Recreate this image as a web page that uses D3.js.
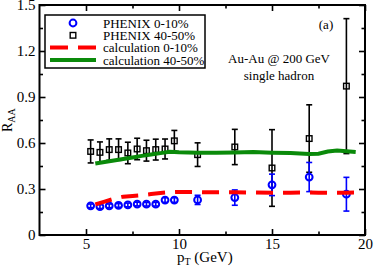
<!DOCTYPE html>
<html>
<head>
<meta charset="utf-8">
<script src="https://cdn.jsdelivr.net/npm/d3@7"></script>
<style>
  body { margin: 0; background: #fff; }
  svg text { font-family: "Liberation Serif", "DejaVu Serif", serif; }
</style>
</head>
<body>
<div id="chart"></div>
<script>
// measured points (PHENIX)
var ptData = [5.25, 5.75, 6.25, 6.75, 7.25, 7.75, 8.25, 8.75, 9.25, 9.75, 11, 13, 15, 17, 19];
var raa0_10 = [0.19, 0.185, 0.19, 0.193, 0.196, 0.202, 0.201, 0.201, 0.228, 0.228, 0.229, 0.244, 0.327, 0.378, 0.266];
var err0_10 = [0.012, 0.012, 0.012, 0.012, 0.012, 0.012, 0.012, 0.012, 0.015, 0.015, 0.03, 0.05, 0.07, 0.095, 0.11];
var raa40_50 = [0.545, 0.539, 0.557, 0.557, 0.535, 0.561, 0.55, 0.557, 0.561, 0.614, 0.524, 0.574, 0.437, 0.629, 0.971];
var err40_50 = [0.075, 0.068, 0.07, 0.07, 0.07, 0.07, 0.068, 0.068, 0.065, 0.068, 0.077, 0.115, 0.25, 0.22, 0.44];

// calculation curves
var calcPt = [5.5, 6, 6.5, 7, 7.5, 8, 8.5, 9, 9.5, 10, 11, 12, 13, 14, 15, 16, 17, 17.5, 18, 18.5, 19, 19.5];
var calc0_10 = [0.2, 0.218, 0.236, 0.25, 0.255, 0.26, 0.267, 0.274, 0.279, 0.281, 0.28, 0.278, 0.279, 0.277, 0.275, 0.276, 0.277, 0.276, 0.275, 0.275, 0.276, 0.277];
var calc40_50 = [0.466, 0.476, 0.486, 0.496, 0.506, 0.516, 0.525, 0.534, 0.543, 0.54, 0.537, 0.537, 0.538, 0.541, 0.537, 0.534, 0.529, 0.53, 0.544, 0.551, 0.546, 0.541];

var xMajor = [5, 10, 15, 20];
var xMinor = [7.5, 12.5, 17.5];
var yMajor = [0, 0.3, 0.6, 0.9, 1.2, 1.5];
var yMinor = [0.15, 0.45, 0.75, 1.05, 1.35];

var legendLabels = ["PHENIX 0-10%", "PHENIX 40-50%", "calculation 0-10%", "calculation 40-50%"];

var W = 374, H = 267;
var plotL = 39.5, plotR = 365, plotT = 5, plotB = 235;

var svg = d3.select("#chart").append("svg")
    .attr("width", W).attr("height", H);

var x = d3.scaleLinear().domain([2.5, 20]).range([plotL, plotR]);
var y = d3.scaleLinear().domain([0, 1.5]).range([plotB, plotT]);

var blue = "#0000ff", red = "#ff0000", green = "#0a8a0a";

function fmtY(d) { return d === 0 ? "0" : d3.format(".1f")(d); }

// ticks, all inward
function addAxis(axisFn, vals, size, tr, labels) {
    var g = svg.append("g")
        .attr("transform", tr)
        .call(axisFn.tickValues(vals).tickSize(-size).tickSizeOuter(0)
            .tickPadding(3).tickFormat(labels ? null : ""));
    g.select(".domain").remove();
    g.selectAll(".tick line").attr("stroke", "#000").attr("stroke-width", 1.6);
    g.selectAll("text").attr("fill", "#000").style("font-size", "15px");
    return g;
}
addAxis(d3.axisBottom(x), xMajor, 6, "translate(0," + plotB + ")", true)
    .selectAll("text").text(function(d) { return d; });
addAxis(d3.axisBottom(x), xMinor, 3.5, "translate(0," + plotB + ")", false);
addAxis(d3.axisTop(x), xMajor, 6, "translate(0," + plotT + ")", false);
addAxis(d3.axisTop(x), xMinor, 3.5, "translate(0," + plotT + ")", false);
addAxis(d3.axisLeft(y), yMajor, 6, "translate(" + plotL + ",0)", true)
    .selectAll("text").text(fmtY).attr("dx", -1);
addAxis(d3.axisLeft(y), yMinor, 3.5, "translate(" + plotL + ",0)", false);
addAxis(d3.axisRight(y), yMajor, 6, "translate(" + plotR + ",0)", false);
addAxis(d3.axisRight(y), yMinor, 3.5, "translate(" + plotR + ",0)", false);

// frame
svg.append("rect")
    .attr("x", plotL).attr("y", plotT)
    .attr("width", plotR - plotL).attr("height", plotB - plotT)
    .attr("fill", "none").attr("stroke", "#000").attr("stroke-width", 2);

// error bars + markers
function drawSeries(vals, errs, color, shape) {
    var g = svg.append("g");
    var capW = 3;
    ptData.forEach(function(p, i) {
        var cx = x(p), y0 = y(vals[i] - errs[i]), y1 = y(vals[i] + errs[i]);
        g.append("line").attr("x1", cx).attr("x2", cx).attr("y1", y0).attr("y2", y1)
            .attr("stroke", color).attr("stroke-width", 1.6);
        [y0, y1].forEach(function(yy) {
            g.append("line").attr("x1", cx - capW).attr("x2", cx + capW)
                .attr("y1", yy).attr("y2", yy)
                .attr("stroke", color).attr("stroke-width", 1.6);
        });
    });
    if (shape === "circle") {
        g.selectAll("circle").data(vals).enter().append("circle")
            .attr("cx", function(d, i) { return x(ptData[i]); })
            .attr("cy", function(d) { return y(d); })
            .attr("r", 3.4)
            .attr("fill", "none").attr("stroke", color).attr("stroke-width", 2);
    } else {
        g.selectAll("rect").data(vals).enter().append("rect")
            .attr("x", function(d, i) { return x(ptData[i]) - 2.8; })
            .attr("y", function(d) { return y(d) - 2.8; })
            .attr("width", 5.6).attr("height", 5.6)
            .attr("fill", "none").attr("stroke", color).attr("stroke-width", 1.4);
    }
}
drawSeries(raa40_50, err40_50, "#000", "square");
drawSeries(raa0_10, err0_10, blue, "circle");

// calculation curves
var line = d3.line()
    .x(function(d) { return x(d[0]); })
    .y(function(d) { return y(d[1]); });

svg.append("path")
    .datum(d3.zip(calcPt, calc40_50))
    .attr("d", line)
    .attr("fill", "none").attr("stroke", green).attr("stroke-width", 4);

svg.append("path")
    .datum(d3.zip(calcPt, calc0_10))
    .attr("d", line)
    .attr("fill", "none").attr("stroke", red).attr("stroke-width", 4)
    .attr("stroke-dasharray", "17,10");

// axis titles
var yl = svg.append("text")
    .attr("transform", "translate(12,132) rotate(-90)")
    .style("font-size", "14px").attr("fill", "#000");
yl.append("tspan").text("R");
yl.append("tspan").attr("dy", 3).style("font-size", "10px").text("AA");

var xl = svg.append("text")
    .attr("x", 177).attr("y", 262)
    .style("font-size", "15px").attr("fill", "#000");
xl.append("tspan").text("p");
xl.append("tspan").attr("dy", 3).style("font-size", "10px").text("T");
xl.append("tspan").attr("dy", -3).text(" (GeV)");

// annotations
svg.append("text").attr("x", 326).attr("y", 29).attr("text-anchor", "middle")
    .style("font-size", "13px").text("(a)");
svg.append("text").attr("x", 279).attr("y", 63).attr("text-anchor", "middle")
    .style("font-size", "13px").text("Au-Au @ 200 GeV");
svg.append("text").attr("x", 279).attr("y", 80).attr("text-anchor", "middle")
    .style("font-size", "13px").text("single hadron");

// legend
var lg = svg.append("g");
lg.append("rect").attr("x", 45).attr("y", 15).attr("width", 160).attr("height", 53)
    .attr("fill", "#fff").attr("stroke", "#000").attr("stroke-width", 1.5);
var rowY = [23, 35.3, 47.6, 60];
lg.append("circle").attr("cx", 73).attr("cy", rowY[0]).attr("r", 3.4)
    .attr("fill", "none").attr("stroke", blue).attr("stroke-width", 2);
lg.append("rect").attr("x", 73 - 2.8).attr("y", rowY[1] - 2.8).attr("width", 5.6).attr("height", 5.6)
    .attr("fill", "none").attr("stroke", "#000").attr("stroke-width", 1.4);
lg.append("line").attr("x1", 50).attr("x2", 96).attr("y1", rowY[2]).attr("y2", rowY[2])
    .attr("stroke", red).attr("stroke-width", 4).attr("stroke-dasharray", "18,10");
lg.append("line").attr("x1", 50).attr("x2", 96).attr("y1", rowY[3]).attr("y2", rowY[3])
    .attr("stroke", green).attr("stroke-width", 4);
lg.selectAll("text.lab").data(legendLabels).enter().append("text")
    .attr("class", "lab")
    .attr("x", 103).attr("y", function(d, i) { return rowY[i]; })
    .attr("dy", "0.35em")
    .style("font-size", "13px").attr("fill", "#000")
    .text(function(d) { return d; });
</script>
</body>
</html>
